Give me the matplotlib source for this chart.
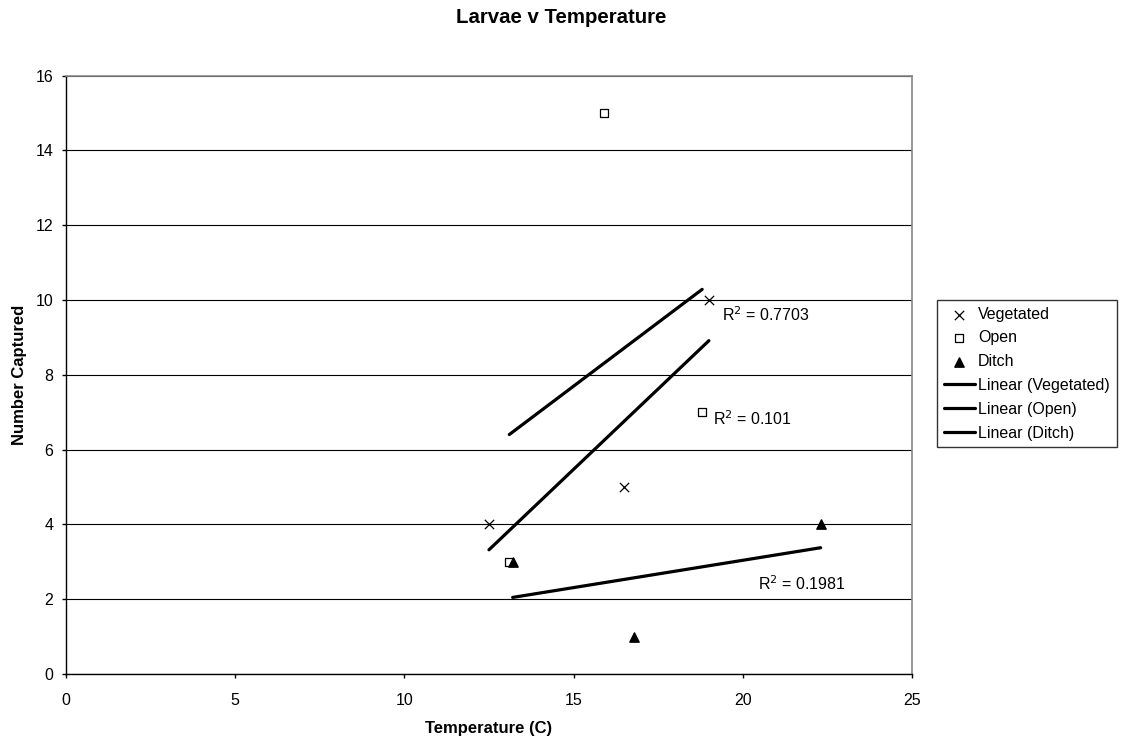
import numpy as np
import matplotlib.pyplot as plt

plt.rcParams['font.family'] = ['Liberation Sans', 'DejaVu Sans']

# Data
veg_temp = [12.5, 16.5, 19.0]
veg_count = [4, 5, 10]
open_temp = [13.1, 15.9, 18.8]
open_count = [3, 15, 7]
ditch_temp = [13.2, 16.8, 22.3]
ditch_count = [3, 1, 4]

x_ticks = [0, 5, 10, 15, 20, 25]
y_ticks = [0, 2, 4, 6, 8, 10, 12, 14, 16]


def trend(x, y):
    # Excel style linear trendline over the data's x range
    slope, icpt = np.polyfit(x, y, 1)
    xs = np.array([min(x), max(x)])
    return xs, slope * xs + icpt


fig = plt.figure(figsize=(11.22, 7.42), dpi=100)
ax = fig.add_axes([0.0588, 0.0916, 0.7540, 0.8064])

ax.scatter(veg_temp, veg_count, marker='x', s=45, color='black', linewidths=0.9,
           label='Vegetated', zorder=4)
ax.scatter(open_temp, open_count, marker='s', s=40, facecolors='white',
           edgecolors='black', linewidths=0.9, label='Open', zorder=4)
ax.scatter(ditch_temp, ditch_count, marker='^', s=45, color='black',
           label='Ditch', zorder=5)

for xv, yv, name in [(veg_temp, veg_count, 'Vegetated'),
                     (open_temp, open_count, 'Open'),
                     (ditch_temp, ditch_count, 'Ditch')]:
    xs, ys = trend(xv, yv)
    ax.plot(xs, ys, color='black', lw=2.3, solid_capstyle='round',
            label='Linear (%s)' % name, zorder=3)

ax.text(19.4, 9.6, r'R$^2$ = 0.7703', fontsize=11.5, va='center')
ax.text(19.12, 6.82, r'R$^2$ = 0.101', fontsize=11.5, va='center')
ax.text(20.45, 2.42, r'R$^2$ = 0.1981', fontsize=11.5, va='center')

ax.set_xlim(0, 25)
ax.set_ylim(0, 16)
ax.set_xticks(x_ticks)
ax.set_yticks(y_ticks)
ax.tick_params(labelsize=11.5, direction='out', length=3, width=1)
ax.tick_params(axis='x', pad=11)
ax.tick_params(axis='y', pad=6)
ax.yaxis.grid(True, color='black', lw=0.8)
ax.set_axisbelow(True)

for side in ['top', 'right']:
    ax.spines[side].set_color('#888888')
    ax.spines[side].set_linewidth(1.2)
for side in ['left', 'bottom']:
    ax.spines[side].set_color('black')
    ax.spines[side].set_linewidth(1.0)

ax.set_xlabel('Temperature (C)', fontsize=12, fontweight='bold', labelpad=9)
ax.set_ylabel('Number Captured', fontsize=12, fontweight='bold', labelpad=6)
fig.text(0.5, 0.969, 'Larvae v Temperature', ha='center', va='baseline',
         fontsize=14.7, fontweight='bold')

leg = fig.legend(loc='upper left', bbox_to_anchor=(0.835, 0.5957), fontsize=11.5,
                 frameon=True, fancybox=False, edgecolor='black',
                 handlelength=1.95, handletextpad=0.22, borderpad=0.42,
                 borderaxespad=0, labelspacing=0.55)
leg.get_frame().set_linewidth(1.0)

fig.savefig('out.png', dpi=100)
